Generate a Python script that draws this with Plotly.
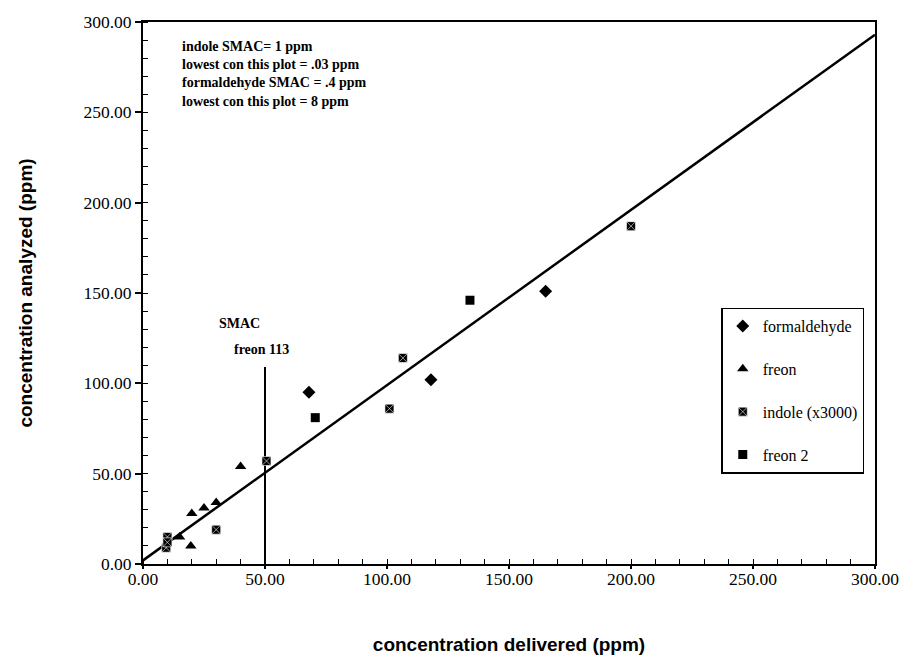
import plotly.graph_objects as go

# ---- data ----
form_x = [68, 118, 165]
form_y = [95, 102, 151]

freon_x = [15, 19.6, 20, 25, 30, 40]
freon_y = [15, 10, 28, 31, 34, 54]

indole_x = [10, 9.5, 10, 30, 50.6, 101, 106.5, 200]
indole_y = [15, 9, 12, 19, 57, 86, 114, 187]

freon2_x = [70.6, 134]
freon2_y = [81, 146]

fit_x = [0, 300]
fit_y = [2, 293]

smac_x = [50, 50]
smac_y = [0, 109]

x_ticks = [0, 50, 100, 150, 200, 250, 300]
y_ticks = [0, 50, 100, 150, 200, 250, 300]

note_lines = ["indole SMAC= 1 ppm", "lowest con this plot = .03 ppm",
              "formaldehyde SMAC = .4 ppm", "lowest con this plot = 8 ppm"]

serif = "Liberation Serif"
sans = "Liberation Sans"

fig = go.Figure()
fig.add_trace(go.Scatter(x=fit_x, y=fit_y, mode="lines", line=dict(color="black", width=2.5),
                         showlegend=False, hoverinfo="skip"))
fig.add_trace(go.Scatter(x=smac_x, y=smac_y, mode="lines", line=dict(color="black", width=2),
                         showlegend=False, hoverinfo="skip"))
fig.add_trace(go.Scatter(x=form_x, y=form_y, mode="markers", name="formaldehyde", legendgroup="a",
                         marker=dict(symbol="diamond", size=10, color="black")))
fig.add_trace(go.Scatter(x=freon_x, y=freon_y, mode="markers", name="freon", legendgroup="b",
                         marker=dict(symbol="triangle-up", size=10, color="black")))
fig.add_trace(go.Scatter(x=indole_x, y=indole_y, mode="markers", name="indole (x3000)", legendgroup="c",
                         marker=dict(symbol="square-x", size=9, color="black",
                                     line=dict(color="white", width=0.6))))
fig.add_trace(go.Scatter(x=freon2_x, y=freon2_y, mode="markers", name="freon 2", legendgroup="d",
                         marker=dict(symbol="square", size=9, color="black")))

fig.add_annotation(x=0.05, y=0.972, xref="paper", yref="paper", xanchor="left", yanchor="top",
                   text="<b>" + "<br>".join(note_lines) + "</b>", align="left", showarrow=False,
                   font=dict(family=serif, size=14, color="black"))
fig.add_annotation(x=30.5, y=133, xanchor="left", yanchor="middle", text="<b>SMAC</b>",
                   showarrow=False, font=dict(family=serif, size=14, color="black"))
fig.add_annotation(x=36.5, y=119, xanchor="left", yanchor="middle", text="<b>freon 113</b>",
                   showarrow=False, font=dict(family=serif, size=14, color="black"))

axis_common = dict(range=[0, 300], showline=True, linecolor="black", linewidth=2,
                   mirror=True, showgrid=False, zeroline=False,
                   ticks="outside", tickwidth=1.5, tickcolor="black",
                   tickformat=".2f",
                   tickfont=dict(family=serif, size=17.5, color="black"),
                   minor=dict(ticks="inside", ticklen=5, tickwidth=1.2, tickcolor="black", dtick=10))

fig.update_xaxes(**axis_common, tickvals=x_ticks, ticklen=3, ticklabelstandoff=-5,
                 title=dict(text="<b>concentration delivered (ppm)</b>", standoff=50,
                            font=dict(family=sans, size=19, color="black")))
fig.update_yaxes(**axis_common, tickvals=y_ticks, ticklen=6,
                 title=dict(text="<b>concentration analyzed (ppm)</b>", standoff=46,
                            font=dict(family=sans, size=19, color="black")))

fig.update_layout(
    width=911, height=667,
    margin=dict(l=143, r=31, t=18, b=103),
    plot_bgcolor="white", paper_bgcolor="white",
    legend=dict(x=0.79, y=0.473, xanchor="left", yanchor="top",
                bordercolor="black", borderwidth=1.5, bgcolor="white",
                tracegroupgap=19,
                font=dict(family=serif, size=16, color="black")),
)

fig.write_html("out.html")
